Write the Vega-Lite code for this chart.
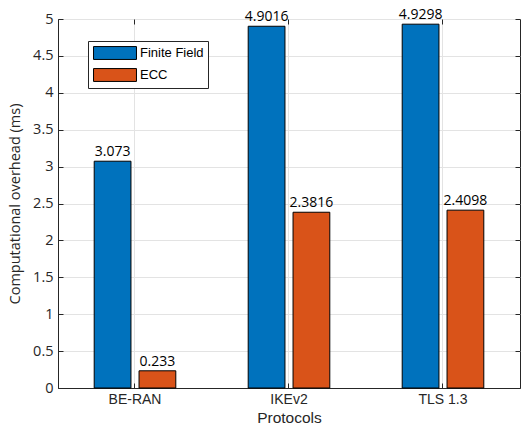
{
  "$schema": "https://vega.github.io/schema/vega-lite/v6.json",
  "width": 462,
  "height": 369,
  "autosize": "none",
  "padding": {"left": 58, "top": 19, "right": 2, "bottom": 41},
  "config": {
    "view": {"stroke": "#262626", "strokeWidth": 1},
    "font": "Liberation Sans"
  },
  "data": {
    "values": [
      {"protocol": "BE-RAN", "type": "Finite Field", "value": 3.073},
      {"protocol": "BE-RAN", "type": "ECC", "value": 0.233},
      {"protocol": "IKEv2", "type": "Finite Field", "value": 4.9016},
      {"protocol": "IKEv2", "type": "ECC", "value": 2.3816},
      {"protocol": "TLS 1.3", "type": "Finite Field", "value": 4.9298},
      {"protocol": "TLS 1.3", "type": "ECC", "value": 2.4098}
    ]
  },
  "layer": [
    {
      "mark": {"type": "bar", "stroke": "#000000", "strokeWidth": 1},
      "encoding": {
        "x": {
          "field": "protocol", "type": "nominal",
          "sort": ["BE-RAN", "IKEv2", "TLS 1.3"],
          "scale": {"paddingInner": 0.47, "paddingOuter": 0.235},
          "axis": {
            "title": "Protocols", "titleFont": "Liberation Sans", "titleFontSize": 15.5, "titleFontWeight": "normal", "titleColor": "#262626",
            "titlePadding": 4,
            "labelAngle": 0, "labelFontSize": 14, "labelColor": "#262626", "labelPadding": 9,
            "domainColor": "#262626", "tickColor": "#262626", "tickSize": -5,
            "grid": true, "gridColor": "#e3e3e3", "bandPosition": 0.5
          }
        },
        "xOffset": {
          "field": "type", "type": "nominal",
          "sort": ["Finite Field", "ECC"],
          "scale": {"domain": ["Finite Field", "ECC"], "paddingInner": 0.18}
        },
        "y": {
          "field": "value", "type": "quantitative",
          "scale": {"domain": [0, 5], "nice": false},
          "axis": {
            "title": "Computational overhead (ms)", "titleFont": "Open Sans", "titleFontSize": 14.5, "titleFontWeight": "normal", "titleColor": "#262626",
            "titlePadding": 10,
            "values": [0, 0.5, 1, 1.5, 2, 2.5, 3, 3.5, 4, 4.5, 5], "format": "~g",
            "labelFont": "Open Sans", "labelFontSize": 14.5, "labelColor": "#262626", "labelPadding": 10,
            "domainColor": "#262626", "tickColor": "#262626", "tickSize": -5,
            "grid": true, "gridColor": "#e3e3e3"
          }
        },
        "color": {
          "field": "type", "type": "nominal",
          "scale": {"domain": ["Finite Field", "ECC"], "range": ["#0072BD", "#D95319"]},
          "legend": {
            "title": null, "orient": "none", "legendX": 30, "legendY": 22,
            "direction": "vertical",
            "fillColor": "#ffffff", "strokeColor": "#262626", "padding": 4,
            "symbolType": "M-3,-0.9H3V0.9H-3Z", "symbolSize": 205, "symbolOffset": 15,
            "symbolStrokeColor": "#000000", "symbolStrokeWidth": 1, "symbolOpacity": 1,
            "labelFontSize": 13, "labelColor": "#000000", "labelOffset": 17, "rowPadding": 4
          }
        }
      }
    },
    {
      "mark": {"type": "text", "baseline": "bottom", "dy": -2, "fontSize": 14, "font": "Open Sans", "color": "#000000"},
      "encoding": {
        "x": {"field": "protocol", "type": "nominal", "sort": ["BE-RAN", "IKEv2", "TLS 1.3"],
          "axis": {"orient": "top", "labels": false, "title": null, "grid": false, "domain": false, "tickSize": -5, "tickColor": "#262626", "bandPosition": 0.5}},
        "xOffset": {"field": "type", "type": "nominal", "sort": ["Finite Field", "ECC"]},
        "y": {"field": "value", "type": "quantitative",
          "axis": {"orient": "right", "labels": false, "title": null, "grid": false, "domain": false, "tickSize": -5, "tickColor": "#262626",
            "values": [0, 0.5, 1, 1.5, 2, 2.5, 3, 3.5, 4, 4.5, 5]}},
        "text": {"field": "value", "type": "quantitative", "format": "~g"}
      }
    }
  ],
  "resolve": {"axis": {"x": "independent", "y": "independent"}}
}
